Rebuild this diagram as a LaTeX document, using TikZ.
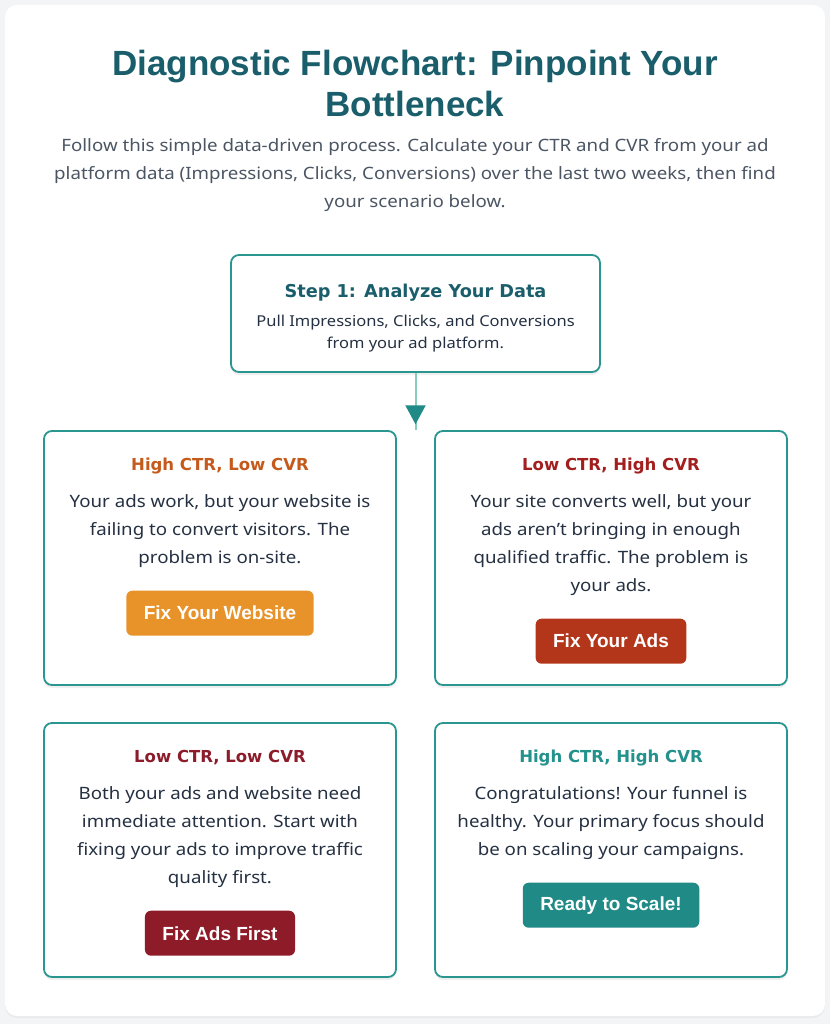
\documentclass[tikz,border=0pt]{standalone}
\usepackage{fontspec}
\setmainfont{Noto Sans}[FakeStretch=1.1]
\newfontfamily\headfont{Liberation Sans}
\newfontfamily\cardheadfont{DejaVu Sans}
\usetikzlibrary{positioning,arrows.meta,decorations.markings,shadows}

\definecolor{pageGray}{HTML}{F3F4F6}
\definecolor{titleTeal}{HTML}{1A5E6B}
\definecolor{introGray}{HTML}{4B5563}
\definecolor{bodyDark}{HTML}{253142}
\definecolor{borderTeal}{HTML}{2A9690}
\definecolor{lineTeal}{HTML}{86CDBB}
\definecolor{headOrange}{HTML}{C45A1C}
\definecolor{btnOrange}{HTML}{E8932A}
\definecolor{headRed}{HTML}{A31F1F}
\definecolor{btnRed}{HTML}{B3361B}
\definecolor{headWine}{HTML}{8C1C2A}
\definecolor{btnWine}{HTML}{8E1B28}
\definecolor{headTeal}{HTML}{23918C}
\definecolor{btnTeal}{HTML}{208A86}

\begin{document}
\begin{tikzpicture}
[x=1pt,y=-1pt,
  cardDecorate/.style={shape=rectangle,rounded corners=8pt,draw=borderTeal,line width=1.8pt,
    fill=white,minimum width=352pt,minimum height=254pt,
    drop shadow={opacity=0.12,shadow xshift=0pt,shadow yshift=-3pt}},
  headDecorate/.style={anchor=base,font=\cardheadfont\fontsize{16.5}{20}\selectfont\bfseries},
  bodyDecorate/.style={anchor=north,inner sep=0pt,align=center,text=bodyDark,
    font=\fontsize{17}{28}\selectfont},
  buttonDecorate/.style={shape=rectangle,rounded corners=6pt,minimum height=45pt,
    inner xsep=17.5pt,text=white,font=\headfont\fontsize{19}{20}\selectfont\bfseries},
  flowLine/.style={-,line width=2pt,draw=lineTeal,postaction={decorate},
    decoration={markings,mark=at position 0.9 with
      {\arrow[btnTeal]{Triangle[width=20pt,length=19pt]}}}}]
%% page and sheet
\fill[pageGray] (0,0) rectangle (830,1024);
\fill[white,rounded corners=12pt,drop shadow={opacity=0.08,shadow xshift=0pt,shadow yshift=-2pt}]
  (5,5) rectangle (825,1016);
%% heading and intro
\node (title) at (415,83) [align=center,text=titleTeal,
  font=\headfont\fontsize{35}{41}\selectfont\bfseries]
  {Diagnostic Flowchart: Pinpoint Your\\Bottleneck};
\node (intro) at (415,175) [align=center,text=introGray,font=\fontsize{17}{28}\selectfont]
  {Follow this simple data-driven process. Calculate your CTR and CVR from your ad\\
   platform data (Impressions, Clicks, Conversions) over the last two weeks, then find\\
   your scenario below.};
%% first step
\node (step) at (415.5,313.5) [shape=rectangle,rounded corners=8pt,draw=borderTeal,
  line width=1.8pt,fill=white,minimum width=369pt,minimum height=117pt,
  drop shadow={opacity=0.12,shadow xshift=0pt,shadow yshift=-3pt}] {};
\node (stepTitle) at ([yshift=-43pt]step.north) [anchor=base,text=titleTeal,
  font=\cardheadfont\fontsize{17.7}{22}\selectfont\bfseries] {Step 1: Analyze Your Data};
\node (stepText) at ([yshift=-57pt]step.north) [anchor=north,align=center,inner sep=0pt,
  text=bodyDark,font=\fontsize{15}{22}\selectfont]
  {\strut Pull Impressions, Clicks, and Conversions\\from your ad platform.\strut};
\coordinate (arrowEnd) at (415.5,430);
\draw[flowLine] (step.south) -- (arrowEnd);
%% scenario cards
\foreach \cardname/\x/\y/\headcolor/\heading/\body/\btncolor/\btntext in {
  hcLc/220/558/headOrange/{High CTR, Low CVR}/{Your ads work, but your website is\\failing to convert visitors. The\\problem is on-site.}/btnOrange/{Fix Your Website},
  lcHc/611/558/headRed/{Low CTR, High CVR}/{Your site converts well, but your\\ads aren't bringing in enough\\qualified traffic. The problem is\\your ads.}/btnRed/{Fix Your Ads},
  lcLc/220/850/headWine/{Low CTR, Low CVR}/{Both your ads and website need\\immediate attention. Start with\\fixing your ads to improve traffic\\quality first.}/btnWine/{Fix Ads First},
  hcHc/611/850/headTeal/{High CTR, High CVR}/{Congratulations! Your funnel is\\healthy. Your primary focus should\\be on scaling your campaigns.}/btnTeal/{Ready to Scale!}}
{
  \node (\cardname) at (\x,\y) [cardDecorate] {};
  \node (\cardname-head) at ([yshift=-40pt]\cardname.north) [headDecorate,text=\headcolor] {\heading};
  \node (\cardname-body) at ([yshift=-57.4pt]\cardname.north) [bodyDecorate] {\strut\body\strut};
  \node (\cardname-btn) [below=18.6pt of \cardname-body,buttonDecorate,fill=\btncolor] {\btntext};
}
\end{tikzpicture}
\end{document}
